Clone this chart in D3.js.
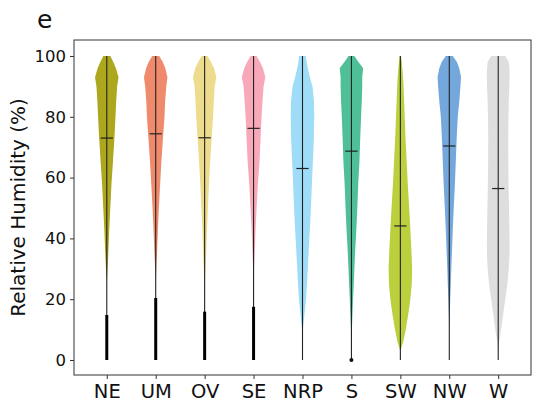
<!DOCTYPE html>
<html><head><meta charset="utf-8">
<script src="https://cdn.jsdelivr.net/npm/d3@7"></script>
<style>body{margin:0;background:#fff}svg{display:block;font-family:"DejaVu Sans",sans-serif}</style>
</head><body>
<svg id="c" width="539" height="407"></svg>
<script>
const categories = ["NE","UM","OV","SE","NRP","S","SW","NW","W"];
const colors = ["#aca71c","#ef8b6c","#eedc8e","#f8a9b9","#9fdcf8","#4fbf98","#bccf3c","#74a7dc","#dedede"];
const medians = [73.0, 74.4, 73.1, 76.2, 63.0, 68.7, 44.1, 70.4, 56.4];
const thickTop = [14.8, 20.4, 15.9, 17.5, 0, 0, 0, 0, 0];
const yTicks = [0, 20, 40, 60, 80, 100];
// RH levels at which violin widths (relative to each violin's max width) are read
const levels = [100, 98, 96, 93, 90, 85, 80, 73, 65, 58, 50, 43, 36, 30, 25, 20, 15, 10, 6, 3, 0];
const wNE  = [0.30,0.55,0.78,1.00,0.88,0.80,0.74,0.65,0.52,0.40,0.30,0.21,0.14,0.07,0.00,0,0,0,0,0,0];
const wUM  = [0.30,0.60,0.82,1.00,0.90,0.80,0.75,0.62,0.48,0.38,0.27,0.19,0.12,0.05,0.00,0,0,0,0,0,0];
const wOV  = [0.25,0.55,0.80,1.00,0.85,0.78,0.72,0.60,0.47,0.37,0.28,0.20,0.14,0.07,0.02,0,0,0,0,0,0];
const wSE  = [0.25,0.55,0.80,1.00,0.85,0.76,0.68,0.60,0.50,0.37,0.26,0.17,0.10,0.04,0.00,0,0,0,0,0,0];
const wNRP = [0.28,0.35,0.45,0.63,0.85,0.98,1.00,0.97,0.88,0.80,0.72,0.63,0.53,0.45,0.38,0.30,0.17,0.03,0,0,0];
const wS   = [0.25,0.60,1.00,0.92,0.92,0.88,0.82,0.75,0.68,0.58,0.50,0.42,0.32,0.25,0.20,0.14,0.09,0.04,0.01,0,0];
const wSW  = [0.06,0.12,0.17,0.23,0.27,0.32,0.37,0.44,0.54,0.63,0.75,0.85,0.94,1.00,0.97,0.85,0.67,0.46,0.25,0,0];
const wNW  = [0.30,0.65,0.85,1.00,0.95,0.85,0.72,0.63,0.55,0.48,0.38,0.30,0.23,0.17,0.13,0.08,0.04,0,0,0,0];
const wW   = [0.60,0.90,0.95,0.97,0.95,0.90,0.87,0.85,0.86,0.88,0.92,0.95,0.97,0.90,0.78,0.60,0.42,0.25,0.08,0,0];
const widths = [wNE,wUM,wOV,wSE,wNRP,wS,wSW,wNW,wW];

const svg = d3.select("#c");
const L = 74, R = 531, T = 40, B = 375;
const x = d3.scaleLinear().domain([0.33, 9.67]).range([L, R]);
const y = d3.scaleLinear().domain([-4.93, 105.26]).range([B, T]);
const halfMax = 0.24;

categories.forEach((c, i) => {
  const pos = i + 1;
  const pts = levels.map((v, k) => ({v, w: widths[i][k] * halfMax}));
  const area = d3.area()
    .y(d => y(d.v))
    .x0(d => x(pos - d.w))
    .x1(d => x(pos + d.w))
    .curve(d3.curveLinear);
  svg.append("path").datum(pts.slice().reverse()).attr("d", area).attr("fill", colors[i]);
  // extrema bar
  svg.append("line").attr("x1", x(pos)).attr("x2", x(pos)).attr("y1", y(0)).attr("y2", y(100))
    .attr("stroke", "#222").attr("stroke-width", 1.1);
  // median
  svg.append("line").attr("x1", x(pos - 0.125)).attr("x2", x(pos + 0.125))
    .attr("y1", y(medians[i])).attr("y2", y(medians[i])).attr("stroke", "#222").attr("stroke-width", 1.2);
  if (thickTop[i] > 0) {
    svg.append("line").attr("x1", x(pos)).attr("x2", x(pos)).attr("y1", y(0)).attr("y2", y(thickTop[i]))
      .attr("stroke", "#000").attr("stroke-width", 3);
  }
});
// S low outlier dot
svg.append("circle").attr("cx", x(6)).attr("cy", y(0)).attr("r", 2).attr("fill", "#111");

// frame
svg.append("rect").attr("x", L).attr("y", T).attr("width", R - L).attr("height", B - T)
  .attr("fill", "none").attr("stroke", "#333").attr("stroke-width", 1);

// y axis
const yAxis = d3.axisLeft(y).tickValues(yTicks).tickSize(4).tickPadding(4);
const gy = svg.append("g").attr("transform", `translate(${L},0)`).call(yAxis);
gy.select(".domain").remove();
gy.selectAll("text").attr("font-size", 16.5).attr("fill", "#111").attr("font-family", "DejaVu Sans");
gy.selectAll("line").attr("stroke", "#333");

// x axis
const xAxis = d3.axisBottom(x).tickValues(d3.range(1, 10)).tickFormat(d => categories[d - 1]).tickSize(4).tickPadding(5);
const gx = svg.append("g").attr("transform", `translate(0,${B})`).call(xAxis);
gx.select(".domain").remove();
gx.selectAll("text").attr("font-size", 19.5).attr("fill", "#111").attr("font-family", "DejaVu Sans");
gx.selectAll("line").attr("stroke", "#333");

// y label
svg.append("text").attr("transform", `translate(25,${(T + B) / 2}) rotate(-90)`)
  .attr("text-anchor", "middle").attr("font-size", 20).attr("fill", "#111").text("Relative Humidity (%)");
// panel letter
svg.append("text").attr("x", 37).attr("y", 28).attr("font-size", 25).attr("fill", "#111").text("e");
</script>
</body></html>
